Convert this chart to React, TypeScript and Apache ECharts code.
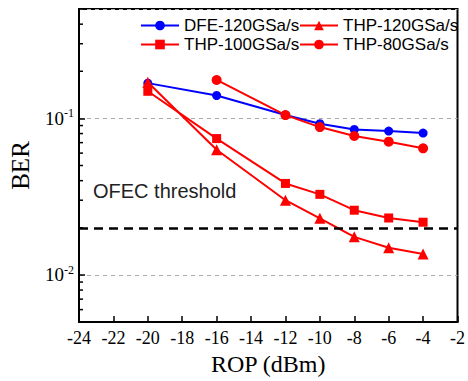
import React, { useEffect, useRef } from "react";
import * as echarts from "echarts";

const xValues = [-20, -16, -12, -10, -8, -6, -4];
const dfe120 = [0.168, 0.14, 0.105, 0.0925, 0.085, 0.083, 0.0806];
const thp120 = [0.17, 0.063, 0.03, 0.023, 0.0175, 0.0149, 0.0136];
const thp100 = [0.149, 0.0743, 0.0384, 0.0327, 0.0259, 0.0231, 0.0217];
const thp80x = [-16, -12, -10, -8, -6, -4];
const thp80 = [0.176, 0.105, 0.088, 0.0772, 0.071, 0.0644];
const threshold = 0.02;
const minorTicks = [0.006, 0.007, 0.008, 0.009, 0.02, 0.03, 0.04, 0.05, 0.06, 0.07, 0.08, 0.09, 0.2, 0.3, 0.4];

const pair = (xs: number[], ys: number[]) => xs.map((x, i) => [x, ys[i]]);

export default function App() {
  const ref = useRef<HTMLDivElement>(null);
  useEffect(() => {
    const chart = echarts.init(ref.current!, null, { renderer: "svg" });
    const serif = "Liberation Serif";
    const sans = "Liberation Sans";
    const lineSeries = (name: string, data: number[][], color: string, symbol: string, size: number) => ({
      name,
      type: "line",
      data,
      symbol,
      symbolSize: size,
      lineStyle: { color, width: 2 },
      itemStyle: { color },
      z: 3,
    });
    const legendText = { fontFamily: sans, fontSize: 17, color: "#000" };
    chart.setOption({
      animation: false,
      grid: { left: 73, right: 8, top: 9, bottom: 59, show: true, borderColor: "#000", borderWidth: 2 },
      xAxis: {
        type: "value",
        min: -24,
        max: -2,
        interval: 2,
        axisLine: { lineStyle: { color: "#000", width: 2 } },
        axisTick: { inside: true, length: 6, lineStyle: { color: "#000", width: 1.5 } },
        axisLabel: { fontFamily: serif, fontSize: 18, color: "#000", margin: 7 },
        splitLine: { show: false },
        name: "ROP (dBm)",
        nameLocation: "middle",
        nameGap: 29,
        nameTextStyle: { fontFamily: serif, fontSize: 24, color: "#000" },
      },
      yAxis: {
        type: "log",
        logBase: 10,
        min: 0.005,
        max: 0.5,
        axisLine: { lineStyle: { color: "#000", width: 2 } },
        axisTick: { inside: true, length: 6, lineStyle: { color: "#000", width: 1.5 } },
        axisLabel: {
          margin: 5,
          formatter: (v: number) => {
            const l = Math.log10(v);
            const r = Math.round(l);
            if (Math.abs(l - r) > 1e-6) return "";
            return `{b|10}{s|${r}}`;
          },
          rich: {
            b: { fontFamily: serif, fontSize: 19, color: "#000" },
            s: { fontFamily: serif, fontSize: 12, color: "#000", padding: [0, 0, 10, 0] },
          },
        },
        splitLine: { show: true, lineStyle: { color: "#aaa", type: [4, 4], width: 1 } },
        name: "BER",
        nameLocation: "middle",
        nameGap: 46,
        nameTextStyle: { fontFamily: serif, fontSize: 25, color: "#000" },
      },
      legend: [
        {
          data: ["DFE-120GSa/s", "THP-100GSa/s"],
          orient: "vertical",
          left: 135,
          top: 12,
          itemWidth: 38,
          itemHeight: 12,
          itemGap: 2,
          textStyle: legendText,
        },
        {
          data: ["THP-120GSa/s", "THP-80GSa/s"],
          orient: "vertical",
          left: 294,
          top: 12,
          itemWidth: 38,
          itemHeight: 12,
          itemGap: 2,
          textStyle: legendText,
        },
      ],
      graphic: [
        {
          type: "text",
          left: 93,
          top: 181,
          style: { text: "OFEC threshold", fontFamily: sans, fontSize: 20, fill: "#222" },
        },
      ],
      series: [
        lineSeries("DFE-120GSa/s", pair(xValues, dfe120), "#0000ff", "circle", 9),
        {
          ...lineSeries("THP-100GSa/s", pair(xValues, thp100), "#ff0000", "rect", 9),
          markLine: {
            silent: true,
            symbol: "none",
            label: { show: false },
            lineStyle: { color: "#000", type: [9, 6], width: 2.5 },
            data: [{ yAxis: threshold }],
          },
        },
        lineSeries("THP-120GSa/s", pair(xValues, thp120), "#ff0000", "triangle", 11),
        lineSeries("THP-80GSa/s", pair(thp80x, thp80), "#ff0000", "circle", 10),
        {
          type: "custom",
          name: "minor",
          data: minorTicks.map((v) => [-24, v]),
          renderItem: (_p: any, api: any) => {
            const pt = api.coord([api.value(0), api.value(1)]);
            return {
              type: "line",
              shape: { x1: pt[0], y1: pt[1], x2: pt[0] + 4, y2: pt[1] },
              style: { stroke: "#000", lineWidth: 1.5 },
            };
          },
          silent: true,
          z: 4,
        },
      ],
    });
    return () => chart.dispose();
  }, []);
  return <div ref={ref} style={{ position: "absolute", left: 0, top: 0, width: 468, height: 381 }} />;
}
